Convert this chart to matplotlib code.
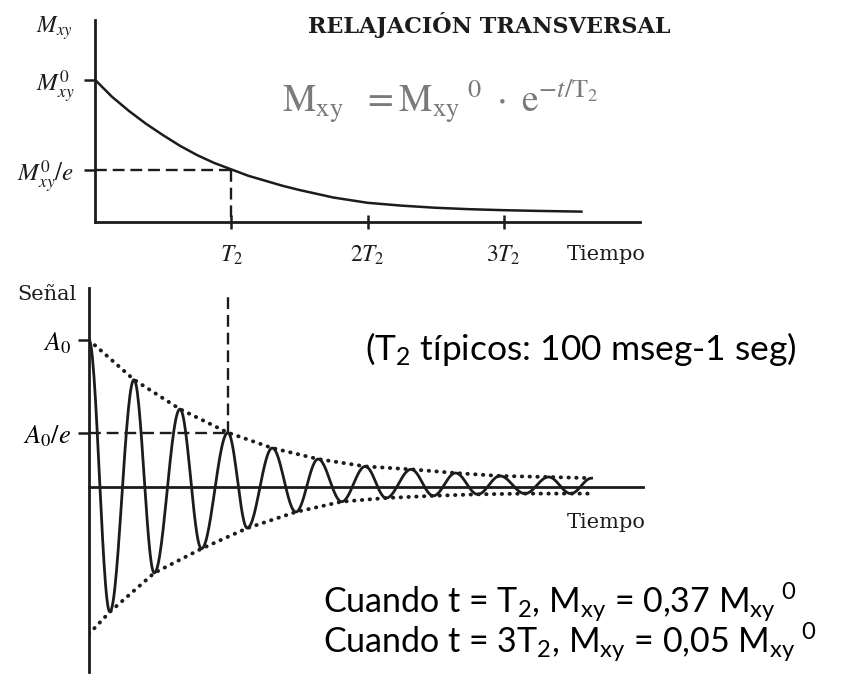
import numpy as np
import matplotlib.pyplot as plt

plt.rcParams['mathtext.fontset'] = 'stix'
plt.rcParams['mathtext.rm'] = 'Lato'
plt.rcParams['mathtext.it'] = 'Lato:italic'

INK = '#1c1c1c'
W, H = 864, 677

# Relajación transversal (t en unidades de T2, Mxy en unidades de Mxy0)
t_rel = [0, 0.125, 0.25, 0.375, 0.5, 0.625, 0.75, 0.875, 1.0, 1.125, 1.25, 1.375, 1.5,
         1.75, 2.0, 2.25, 2.5, 2.75, 3.0, 3.25, 3.57]
m_rel = [1.0, 0.88, 0.78, 0.69, 0.61, 0.535, 0.47, 0.415, 0.37, 0.325, 0.29, 0.255, 0.225,
         0.172, 0.135, 0.115, 0.10, 0.09, 0.083, 0.078, 0.073]

# Señal: máximos y mínimos de la oscilación (en unidades de A0)
t_max = [0, 0.324, 0.655, 1.0, 1.32, 1.65, 1.99, 2.32, 2.64, 2.96, 3.31, 3.62]
a_max = [1.0, 0.73, 0.53, 0.37, 0.265, 0.19, 0.14, 0.12, 0.095, 0.075, 0.068, 0.06]
t_min = [0.15, 0.47, 0.81, 1.14, 1.49, 1.82, 2.14, 2.48, 2.80, 3.14, 3.47]
a_min = [0.85, 0.585, 0.42, 0.28, 0.17, 0.10, 0.075, 0.06, 0.05, 0.045, 0.045]

x_ticks = [1, 2, 3]
x_labels = [r'$T_2$', r'$2T_2$', r'$3T_2$']

SERIF = 'DejaVu Serif'


def frac(x, y):
    return x / W, 1 - y / H


def style_axes(ax, xmax, ymin, ymax):
    ax.set_xlim(0, xmax)
    ax.set_ylim(ymin, ymax)
    ax.patch.set_visible(False)
    for s in ['top', 'right']:
        ax.spines[s].set_visible(False)
    ax.spines['left'].set_position(('data', 0))
    ax.spines['bottom'].set_position(('data', 0))
    for s in ['left', 'bottom']:
        ax.spines[s].set_linewidth(2.0)
        ax.spines[s].set_color(INK)


fig = plt.figure(figsize=(W / 100, H / 100), dpi=100)

# ---- gráfico superior: decaimiento de Mxy ----
ax1 = fig.add_axes([95 / W, 1 - 222 / H, 545 / W, 202 / H])
style_axes(ax1, 4.0, 0, 1.42)
ax1.plot(t_rel, m_rel, color=INK, lw=1.8)
ax1.plot([0, 1], [1 / np.e, 1 / np.e], color=INK, lw=1.7, ls=(0, (5, 2.5)))
ax1.plot([1, 1], [1 / np.e, -0.06], color=INK, lw=1.7, ls=(0, (5, 2.5)))
ax1.set_xticks(x_ticks)
ax1.set_xticklabels(x_labels, fontsize=17)
ax1.tick_params(axis='x', direction='inout', length=10, width=1.8, color=INK, pad=10)
ax1.set_yticks([1 / np.e, 1.0])
ax1.set_yticklabels([r'$M^{\mathrm{0}}_{xy}/e$', r'$M^{\mathrm{0}}_{xy}$'], fontsize=18)
ax1.tick_params(axis='y', direction='out', length=8, width=1.8, color=INK, pad=7)
for lbl in ax1.get_xticklabels() + ax1.get_yticklabels():
    lbl.set_color(INK)

fig.text(*frac(54, 28), r'$M_{xy}$', fontsize=17, ha='center', va='center', color=INK)
fig.text(*frac(606, 260), 'Tiempo', fontsize=15, family=SERIF,
         ha='center', va='baseline', color=INK)
fig.text(*frac(489, 33), 'RELAJACIÓN TRANSVERSAL', fontsize=16, weight='bold',
         family=SERIF, ha='center', va='baseline', color=INK)
fig.text(*frac(440, 113),
         r'$\mathrm{M}_{\mathrm{xy}}\ \ = \mathrm{M}_{\mathrm{xy}}{}^{\ \mathrm{0}}\ \cdot\ \mathrm{e}^{\mathrm{-}t/\mathrm{T}_{2}}$',
         fontsize=27, color='#7a7a7a', ha='center', va='baseline')

# ---- gráfico inferior: señal oscilante amortiguada ----
ax2 = fig.add_axes([89 / W, 1 - 672 / H, 554 / W, 384 / H])
style_axes(ax2, 3.99, -1.259, 1.354)

ext = sorted([(t, a) for t, a in zip(t_max, a_max)] + [(t, -a) for t, a in zip(t_min, a_min)])
s = np.linspace(0, 1, 30)
sig_t, sig_y = [], []
for (t0, y0), (t1, y1) in zip(ext, ext[1:]):
    sig_t.extend(t0 + (t1 - t0) * s)
    sig_y.extend(y0 + (y1 - y0) * (1 - np.cos(np.pi * s)) / 2)
ax2.plot(sig_t, sig_y, color=INK, lw=2.0)

dots = dict(color=INK, lw=2.8, ls=(0, (0.1, 1.9)), dash_capstyle='round')
ax2.plot(t_max, a_max, **dots)
ax2.plot([0] + t_min + [3.6], [-1.0] + [-a for a in a_min] + [-0.045], **dots)

ax2.plot([0, 1], [1 / np.e, 1 / np.e], color=INK, lw=1.7, ls=(0, (5, 2.5)))
ax2.plot([1, 1], [1 / np.e, 1.306], color=INK, lw=1.7, ls=(0, (5, 2.5)))

ax2.set_xticks([])
ax2.set_yticks([1 / np.e, 1.0])
ax2.set_yticklabels([r'$A_{\mathrm{0}}/e$', r'$A_{\mathrm{0}}$'], fontsize=19)
ax2.tick_params(axis='y', direction='out', length=8, width=1.8, color=INK, pad=5)

fig.text(*frac(47, 300), 'Señal', fontsize=15, family=SERIF,
         ha='center', va='baseline', color=INK)
fig.text(*frac(606, 528), 'Tiempo', fontsize=15, family=SERIF,
         ha='center', va='baseline', color=INK)

# ---- notas ----
sans = dict(family='Lato', color='black', math_fontfamily='custom')
fig.text(*frac(581, 360), r'(T$_{\mathrm{2}}$ típicos: 100 mseg-1 seg)', fontsize=25.5,
         ha='center', va='baseline', **sans)
fig.text(*frac(323, 613),
         r'Cuando t = T$_{\mathrm{2}}$, M$_{\mathrm{xy}}$ = 0,37 M$_{\mathrm{xy}}{}^{\ \mathrm{0}}$',
         fontsize=24.5, ha='left', va='baseline', **sans)
fig.text(*frac(323, 653),
         r'Cuando t = 3T$_{\mathrm{2}}$, M$_{\mathrm{xy}}$ = 0,05 M$_{\mathrm{xy}}{}^{\ \mathrm{0}}$',
         fontsize=24.5, ha='left', va='baseline', **sans)

fig.savefig('out.png', dpi=100)
